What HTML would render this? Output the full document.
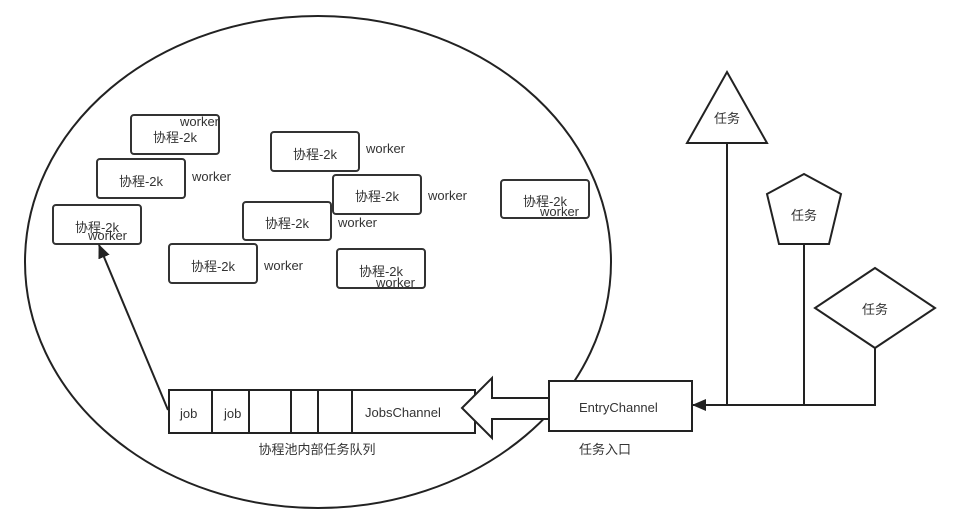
<!DOCTYPE html>
<html><head><meta charset="utf-8"><style>body{margin:0;background:#fff}svg{display:block}text{font-family:"Liberation Sans","Noto Sans CJK SC",sans-serif;font-size:13px;fill:#333}</style></head>
<body>
<svg width="960" height="528" viewBox="0 0 960 528" xmlns="http://www.w3.org/2000/svg">
<defs><marker id="a" markerWidth="14" markerHeight="12" refX="13" refY="6" orient="auto" markerUnits="userSpaceOnUse"><path d="M0,0 L14,6 L0,12 Z" fill="#222"/></marker></defs>
<ellipse cx="318" cy="262" rx="293" ry="246" fill="none" stroke="#222" stroke-width="2"/>
<g fill="#fff" stroke="#333" stroke-width="2">
<rect x="131" y="115" width="88" height="39" rx="3"/>
<rect x="97" y="159" width="88" height="39" rx="3"/>
<rect x="53" y="205" width="88" height="39" rx="3"/>
<rect x="271" y="132" width="88" height="39" rx="3"/>
<rect x="333" y="175" width="88" height="39" rx="3"/>
<rect x="243" y="202" width="88" height="38" rx="3"/>
<rect x="169" y="244" width="88" height="39" rx="3"/>
<rect x="337" y="249" width="88" height="39" rx="3"/>
<rect x="501" y="180" width="88" height="38" rx="3"/>
</g>
<g text-anchor="middle">
<text x="175" y="142">协程-2k</text>
<text x="141" y="186">协程-2k</text>
<text x="97" y="232">协程-2k</text>
<text x="315" y="159">协程-2k</text>
<text x="377" y="201">协程-2k</text>
<text x="287" y="228">协程-2k</text>
<text x="213" y="271">协程-2k</text>
<text x="381" y="276">协程-2k</text>
<text x="545" y="206">协程-2k</text>
</g>
<text x="180" y="126">worker</text>
<text x="192" y="181">worker</text>
<text x="88" y="240">worker</text>
<text x="366" y="153">worker</text>
<text x="428" y="200">worker</text>
<text x="338" y="227">worker</text>
<text x="264" y="270">worker</text>
<text x="376" y="287">worker</text>
<text x="540" y="216">worker</text>
<line x1="168" y1="410" x2="99" y2="245" stroke="#222" stroke-width="2" marker-end="url(#a)"/>
<g fill="#fff" stroke="#222" stroke-width="2">
<rect x="169" y="390" width="306" height="43"/>
<line x1="212" y1="390" x2="212" y2="433"/><line x1="249" y1="390" x2="249" y2="433"/><line x1="291" y1="390" x2="291" y2="433"/><line x1="318" y1="390" x2="318" y2="433"/><line x1="352" y1="390" x2="352" y2="433"/>
<path d="M462,408 L492,378 L492,398 L553,398 L553,419 L492,419 L492,438 Z"/>
<rect x="549" y="381" width="143" height="50"/>
<path d="M727,72 L767,143 L687,143 Z"/>
<path d="M804,174 L841,194 L829,244 L779,244 L767,194 Z"/>
<path d="M875,268 L935,308 L875,348 L815,308 Z"/>
</g>
<text x="180" y="418">job</text><text x="224" y="418">job</text>
<text x="365" y="417">JobsChannel</text>
<text x="579" y="412">EntryChannel</text>
<g text-anchor="middle">
<text x="727" y="123">任务</text><text x="804" y="220">任务</text><text x="875" y="314">任务</text>
<text x="317" y="454">协程池内部任务队列</text><text x="605" y="454">任务入口</text>
</g>
<g stroke="#222" stroke-width="2" fill="none">
<line x1="727" y1="143" x2="727" y2="405"/><line x1="804" y1="244" x2="804" y2="405"/>
<polyline points="875,348 875,405 693,405" marker-end="url(#a)"/>
</g>
</svg>
</body></html>
